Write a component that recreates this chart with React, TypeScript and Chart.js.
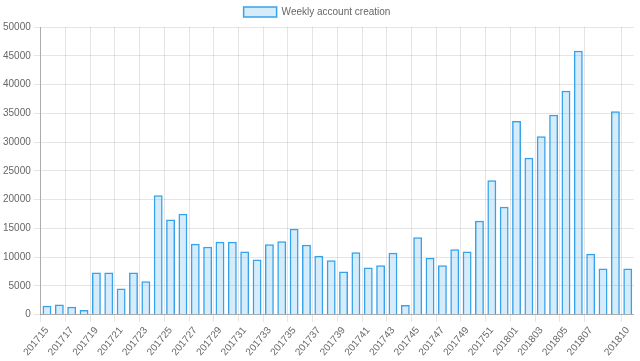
import React, { useEffect, useRef } from "react";
import { Chart, registerables } from "chart.js";

Chart.register(...registerables);

const weeks: string[] = [
  "201715", "201716", "201717", "201718", "201719", "201720", "201721", "201722",
  "201723", "201724", "201725", "201726", "201727", "201728", "201729", "201730",
  "201731", "201732", "201733", "201734", "201735", "201736", "201737", "201738",
  "201739", "201740", "201741", "201742", "201743", "201744", "201745", "201746",
  "201747", "201748", "201749", "201750", "201751", "201752", "201801", "201802",
  "201803", "201804", "201805", "201806", "201807", "201808", "201809", "201810",
];

const accounts: number[] = [
  1550, 1780, 1390, 800, 7350, 7350, 4550, 7350,
  5820, 20780, 16550, 17530, 12330, 11800, 12670, 12700,
  10990, 9600, 12260, 12780, 14930, 12150, 10240, 9480,
  7520, 10870, 8210, 8610, 10760, 1670, 13470, 9900,
  8610, 11390, 10990, 16320, 23370, 18750, 33680, 27260,
  31010, 34770, 38940, 45890, 10590, 8040, 35350, 8040,
];

const seriesLabel = "Weekly account creation";
const yMax = 50000;
const yStep = 5000;

export default function App() {
  const ref = useRef<HTMLCanvasElement | null>(null);
  useEffect(() => {
    document.body.style.margin = "0";
    if (!ref.current) return;
    Chart.defaults.font.family = "'Helvetica Neue', Helvetica, Arial, 'Liberation Sans', sans-serif";
    Chart.defaults.font.size = 10;
    Chart.defaults.color = "#666";
    const last = weeks.length - 1;
    const shown = (i: number) => i === last || (i % 2 === 0 && i + 2 <= last);
    const chart = new Chart(ref.current, {
      type: "bar",
      data: {
        labels: weeks,
        datasets: [
          {
            label: seriesLabel,
            data: accounts,
            backgroundColor: "rgba(54,162,235,0.2)",
            borderColor: "rgb(54,162,235)",
            borderWidth: 1.5,
            categoryPercentage: 0.8,
            barPercentage: 0.9,
          },
        ],
      },
      options: {
        responsive: false,
        animation: false,
        layout: { padding: { left: 0, right: 6, top: 0, bottom: 0 } },
        plugins: {
          legend: {
            display: true,
            labels: { boxWidth: 33, boxHeight: 10, padding: 7, color: "#666" },
          },
          tooltip: { enabled: false },
        },
        scales: {
          x: {
            ticks: {
              autoSkip: false,
              maxRotation: 50,
              minRotation: 50,
              callback: (_v: any, i: number) => (shown(i) ? weeks[i] : ""),
            },
            grid: {
              offset: true,
              color: (ctx: any) =>
                ctx.index === weeks.length || shown(ctx.index) ? "rgba(0,0,0,0.1)" : "rgba(0,0,0,0)",
              tickLength: 7,
            },
            border: { color: "rgba(0,0,0,0.25)" },
          },
          y: {
            min: 0,
            max: yMax,
            ticks: { stepSize: yStep, callback: (v: any) => String(v) },
            grid: { color: "rgba(0,0,0,0.1)", tickLength: 7 },
            border: { color: "rgba(0,0,0,0.25)" },
          },
        },
      },
    });
    return () => chart.destroy();
  }, []);
  return <canvas ref={ref} width={640} height={361} style={{ display: "block" }} />;
}
